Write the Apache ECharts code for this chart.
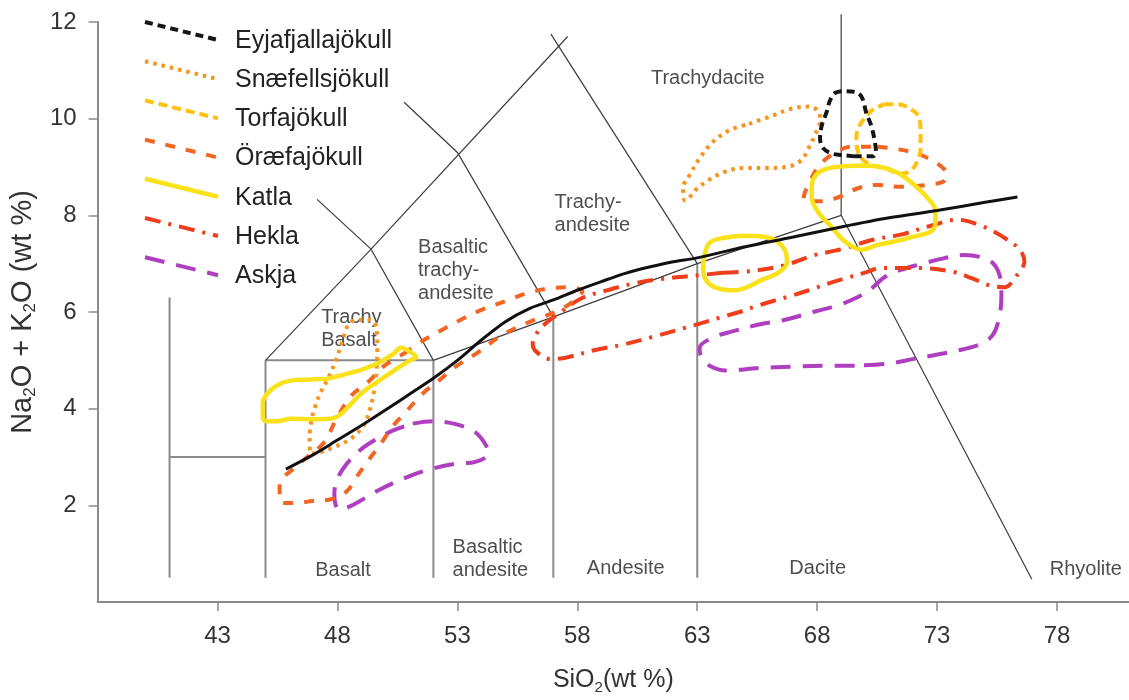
<!DOCTYPE html>
<html>
<head>
<meta charset="utf-8">
<script src="https://cdn.jsdelivr.net/npm/echarts@6/dist/echarts.min.js"></script>
<style>html,body{margin:0;padding:0;background:#fff}#c{width:1129px;height:700px}</style>
</head>
<body>
<div id="c"></div>
<script>
// ---------- axis ticks ----------
const xTicks = [43, 48, 53, 58, 63, 68, 73, 78];
const yTicks = [2, 4, 6, 8, 10, 12];

// ---------- TAS field boundaries (SiO2, Na2O+K2O) ----------
const fieldMainLines = [
  [[41, 0.5], [41, 6.3]],
  [[41, 3], [45, 3]],
  [[45, 0.5], [45, 5]],
  [[45, 5], [52, 5]],
  [[52, 0.5], [52, 5]],
  [[57, 0.5], [57, 5.9]],
  [[63, 0.5], [63, 7]]
];
const fieldThinLines = [
  [[45, 5], [49.4, 7.3], [52, 5]],
  [[52, 5], [57, 5.9], [63, 7], [69, 8]],
  [[47.15, 8.33], [49.4, 7.3]],
  [[49.4, 7.3], [57.6, 11.7]],
  [[50.78, 10.34], [53, 9.3], [57, 5.9]],
  [[56.9, 11.75], [63, 7]],
  [[69, 8], [69, 12.16]],
  [[69, 8], [76.95, 0.47]]
];
const fieldNames = ['Trachydacite', 'Trachy-\nandesite', 'Basaltic\ntrachy-\nandesite', 'Trachy\nBasalt',
  'Basalt', 'Basaltic\nandesite', 'Andesite', 'Dacite', 'Rhyolite'];
const fieldPos = [[63.44, 10.83], [57.05, 8.03], [51.36, 6.85], [47.32, 5.64],
  [48.23, 0.65], [52.80, 0.88], [60.02, 0.69], [68.02, 0.69], [79.20, 0.67]];
const fieldAlign = ['center', 'left', 'left', 'left', 'center', 'left', 'center', 'center', 'center'];

// ---------- alkaline / subalkaline divider ----------
const divider = [[45.85,2.75],[47,3.05],[48,3.35],[49,3.65],[50,3.97],[51,4.3],[52,4.63],[53,5.0],[54,5.42],[55,5.8],[56,6.07],[57,6.25],[58,6.45],[59,6.63],[60,6.8],[61,6.93],[62,7.04],[63,7.12],[65,7.35],[67,7.55],[69,7.76],[71,7.95],[73,8.1],[75,8.27],[76.35,8.38]];

// ---------- volcanic system outlines ----------
const eyjafjallajokull = [[69.56,9.22],[69.01,9.25],[68.60,9.28],[68.25,9.39],[68.12,9.59],[68.19,9.86],[68.39,10.13],[68.53,10.37],[68.74,10.53],[69.15,10.57],[69.70,10.53],[69.90,10.40],[70.04,10.13],[70.25,9.86],[70.38,9.59],[70.45,9.32],[70.32,9.22],[69.56,9.22]];
const snaefellsjokullA = [[65.16,9.89],[66.12,10.06],[66.95,10.21],[67.64,10.25],[68.04,10.16],[68.12,9.96],[67.91,9.66],[67.64,9.39],[67.36,9.15],[66.81,9.01],[65.99,8.98],[65.02,8.98],[64.20,8.91],[63.51,8.74],[62.96,8.54],[62.62,8.34],[62.48,8.31],[62.41,8.57],[62.69,8.84],[63.10,9.18],[63.65,9.52],[64.34,9.76],[65.16,9.89]];
const snaefellsjokullB = [[46.95,3.85],[47.22,4.25],[47.64,4.66],[47.98,5.06],[48.25,5.47],[48.46,5.74],[48.80,5.84],[49.35,5.84],[49.63,5.67],[49.66,5.26],[49.63,4.79],[49.53,4.38],[49.35,3.98],[49.08,3.64],[48.53,3.37],[47.84,3.20],[47.29,3.10],[46.88,3.07],[46.84,3.44],[46.95,3.85]];
const torfajokull = [[70.80,10.30],[71.35,10.30],[71.90,10.20],[72.24,10.03],[72.31,9.72],[72.31,9.39],[72.17,9.12],[71.90,8.92],[71.48,8.86],[70.94,8.95],[70.38,9.03],[69.97,9.12],[69.70,9.32],[69.63,9.59],[69.70,9.79],[69.90,9.96],[70.25,10.16],[70.80,10.30]];
const oraefajokullA = [[50.74,5.13],[51.57,5.41],[52.39,5.64],[53.22,5.86],[54.08,6.06],[54.99,6.22],[55.90,6.39],[56.85,6.49],[57.67,6.51],[58.21,6.43],[57.88,6.24],[57.18,6.02],[56.23,5.84],[55.48,5.68],[54.70,5.47],[53.88,5.17],[52.93,4.87],[52.23,4.58],[51.57,4.32],[50.74,3.87],[50.33,3.65],[49.84,3.30],[49.30,2.94],[48.80,2.59],[48.39,2.29],[47.77,2.13],[46.95,2.09],[46.33,2.05],[45.71,2.05],[45.59,2.09],[45.59,2.45],[46.12,2.74],[46.74,3.00],[47.44,3.30],[47.98,3.81],[48.60,4.28],[49.30,4.56],[49.96,4.89],[50.74,5.13]];
const oraefajokullB = [[70.52,9.42],[71.35,9.37],[72.31,9.25],[73.13,9.03],[73.41,8.84],[73.27,8.70],[72.58,8.63],[71.48,8.59],[70.52,8.63],[69.70,8.56],[68.87,8.37],[68.19,8.29],[67.64,8.29],[67.43,8.34],[67.71,8.71],[68.05,9.01],[68.60,9.25],[69.42,9.42],[70.52,9.42]];
const katlaA = [[47.57,4.62],[48.39,4.72],[49.08,4.82],[49.77,4.96],[50.32,5.13],[50.66,5.26],[51.07,5.16],[51.28,5.07],[51.00,4.99],[50.45,4.82],[49.77,4.59],[49.08,4.35],[48.53,4.08],[48.12,3.88],[47.70,3.79],[46.88,3.78],[46.05,3.79],[45.51,3.74],[45.02,3.74],[44.89,3.81],[44.89,4.12],[45.09,4.32],[45.51,4.49],[46.05,4.58],[46.74,4.60],[47.57,4.62]];
const katlaB = [[64.89,7.58],[65.71,7.56],[66.26,7.48],[66.67,7.26],[66.74,7.02],[66.40,6.82],[65.71,6.67],[65.16,6.53],[64.61,6.45],[63.93,6.48],[63.44,6.61],[63.24,6.89],[63.31,7.19],[63.51,7.43],[64.06,7.53],[64.89,7.58]];
const katlaC = [[69.84,9.03],[70.66,9.00],[71.35,8.88],[72.03,8.64],[72.58,8.37],[72.93,8.10],[72.93,7.83],[72.72,7.66],[72.03,7.56],[71.21,7.46],[70.52,7.39],[69.84,7.29],[69.35,7.39],[68.94,7.56],[68.60,7.76],[68.19,7.97],[67.91,8.17],[67.77,8.37],[67.77,8.57],[67.91,8.81],[68.32,8.95],[69.01,9.01],[69.84,9.03]];
const hekla = [[64.06,6.81],[65.30,6.85],[66.66,6.97],[67.77,7.16],[69.01,7.30],[70.37,7.50],[71.48,7.60],[72.85,7.80],[73.84,7.91],[74.91,7.77],[75.73,7.56],[76.43,7.30],[76.64,7.05],[76.31,6.75],[75.81,6.51],[75.20,6.55],[74.49,6.69],[73.67,6.83],[72.31,6.91],[70.66,6.91],[69.96,6.81],[69.13,6.69],[68.47,6.59],[67.65,6.45],[66.95,6.34],[66.25,6.24],[65.59,6.14],[64.76,6.00],[64.06,5.90],[63.24,5.78],[62.54,5.68],[61.18,5.49],[59.94,5.33],[58.70,5.21],[57.46,5.05],[56.85,5.03],[56.31,5.17],[56.14,5.33],[56.43,5.64],[57.26,5.98],[58.16,6.28],[59.11,6.43],[60.35,6.59],[61.59,6.69],[62.82,6.75],[64.06,6.81]];
const askjaA = [[51.14,3.69],[51.97,3.74],[52.93,3.68],[53.75,3.51],[54.16,3.27],[54.30,3.07],[53.75,2.90],[52.93,2.86],[51.97,2.76],[51.14,2.63],[50.32,2.46],[49.63,2.29],[48.94,2.09],[48.39,1.95],[48.05,1.92],[47.87,2.22],[47.98,2.53],[48.39,2.86],[48.94,3.14],[49.56,3.35],[50.32,3.55],[51.14,3.69]];
const askjaB = [[69.56,4.89],[68.19,4.89],[66.95,4.87],[65.57,4.84],[64.20,4.79],[63.51,4.89],[63.17,5.06],[63.10,5.26],[63.65,5.47],[64.47,5.60],[65.57,5.74],[66.67,5.84],[67.91,6.01],[68.87,6.14],[69.70,6.31],[70.25,6.48],[70.80,6.72],[71.48,6.87],[72.31,6.99],[73.27,7.11],[74.10,7.18],[74.78,7.14],[75.33,7.01],[75.61,6.75],[75.68,6.35],[75.61,5.94],[75.33,5.53],[74.78,5.33],[74.10,5.23],[73.13,5.13],[72.03,5.03],[70.93,4.93],[69.56,4.89]];

const volcanoes = ['Eyjafjallajökull', 'Snæfellsjökull', 'Torfajökull', 'Öræfajökull', 'Katla', 'Hekla', 'Askja'];
// drawing order (bottom to top)
const outlines = [
  ['Askja', askjaA], ['Askja', askjaB],
  ['Hekla', hekla],
  ['Öræfajökull', oraefajokullA], ['Öræfajökull', oraefajokullB],
  ['Snæfellsjökull', snaefellsjokullA], ['Snæfellsjökull', snaefellsjokullB],
  ['Torfajökull', torfajokull],
  ['Katla', katlaA], ['Katla', katlaB], ['Katla', katlaC],
  ['Eyjafjallajökull', eyjafjallajokull]
];

// ---------- styles ----------
const FONT = '"Liberation Sans", Arial, Helvetica, sans-serif';
const styles = {
  'Eyjafjallajökull': { color: '#151515', width: 4,   dash: [8, 5] },
  'Snæfellsjökull':   { color: '#F7941D', width: 4,   dash: [3.5, 5] },
  'Torfajökull':      { color: '#FFC20E', width: 4,   dash: [9, 5] },
  'Öræfajökull':      { color: '#F26522', width: 4,   dash: [10, 11] },
  'Katla':            { color: '#F9E21A', width: 4.5, dash: null },
  'Hekla':            { color: '#EE3F1C', width: 4,   dash: [16, 8, 3, 8] },
  'Askja':            { color: '#B03EC0', width: 4,   dash: [20, 12] }
};

const series = [];
series.push({
  type: 'lines', coordinateSystem: 'cartesian2d', polyline: true, silent: true, clip: false, z: 1,
  lineStyle: { color: '#8a8a8a', width: 2, opacity: 1 },
  data: fieldMainLines.map(c => ({ coords: c }))
});
series.push({
  type: 'lines', coordinateSystem: 'cartesian2d', polyline: true, silent: true, clip: false, z: 1,
  lineStyle: { color: '#3c3c3c', width: 1.2, opacity: 1 },
  data: fieldThinLines.map(c => ({ coords: c }))
});
series.push({
  type: 'scatter', silent: true, symbolSize: 0, z: 2,
  data: fieldNames.map((n, i) => ({
    name: n, value: fieldPos[i],
    label: { align: fieldAlign[i] }
  })),
  label: {
    show: true, position: 'inside', formatter: '{b}', color: '#222',
    fontFamily: FONT, fontSize: 20, lineHeight: 23, verticalAlign: 'middle'
  }
});
outlines.forEach(([name, pts], k) => {
  const s = styles[name];
  series.push({
    type: 'line', name: name, data: pts, smooth: 0.35, symbol: 'none', silent: true,
    z: 3 + k, clip: false,
    lineStyle: { color: s.color, width: s.width, type: s.dash || 'solid', cap: 'butt', join: 'round' }
  });
});
series.push({
  type: 'line', name: 'divider', data: divider, smooth: 0.3, symbol: 'none', silent: true, z: 30,
  lineStyle: { color: '#111', width: 3 }
});

// ---------- legend (slanted strokes as in the original) ----------
const graphic = [];
volcanoes.forEach((name, i) => {
  const s = styles[name];
  const y0 = 22 + 39.2 * i;
  graphic.push({
    type: 'line', z: 50,
    shape: { x1: 145, y1: y0, x2: 218, y2: y0 + 18 },
    style: { stroke: s.color, lineWidth: s.width, lineDash: s.dash || null }
  });
  graphic.push({
    type: 'text', z: 50, x: 235, y: y0 + 19,
    style: { text: name, fill: '#222', font: '25px ' + FONT, verticalAlign: 'middle', align: 'left' }
  });
});

const axisCommon = {
  axisLine: { show: true, lineStyle: { color: '#8a8a8a', width: 2 } },
  axisTick: { show: true, length: 9, lineStyle: { color: '#8a8a8a', width: 1.5 } },
  splitLine: { show: false },
  axisLabel: { color: '#333', fontFamily: FONT, fontSize: 24 }
};

const option = {
  backgroundColor: '#fff',
  animation: false,
  grid: { left: 88, right: 0, top: 22, bottom: 87, containLabel: false },
  xAxis: {
    type: 'value', min: 38, max: 81,
    ...axisCommon,
    axisTick: { ...axisCommon.axisTick, customValues: xTicks },
    axisLabel: { ...axisCommon.axisLabel, customValues: xTicks, margin: 22 },
    name: 'SiO{s|2}(wt %)', nameLocation: 'middle', nameGap: 64,
    nameTextStyle: { color: '#333', fontFamily: FONT, fontSize: 25,
      rich: { s: { fontSize: 15, fontFamily: FONT, color: '#333', padding: [14, 0, 0, 0] } } }
  },
  yAxis: {
    type: 'value', min: 0, max: 12,
    ...axisCommon,
    axisTick: { ...axisCommon.axisTick, customValues: yTicks },
    axisLabel: { ...axisCommon.axisLabel, customValues: yTicks, margin: 21 },
    name: 'Na{s|2}O + K{s|2}O (wt %)', nameLocation: 'middle', nameGap: 48, nameRotate: 90,
    nameTextStyle: { color: '#333', fontFamily: FONT, fontSize: 29,
      rich: { s: { fontSize: 17, fontFamily: FONT, color: '#333', padding: [16, 0, 0, 0] } } }
  },
  graphic: graphic,
  series: series
};

const chart = echarts.init(document.getElementById('c'), null, { renderer: 'canvas' });
chart.setOption(option);
</script>
</body>
</html>
